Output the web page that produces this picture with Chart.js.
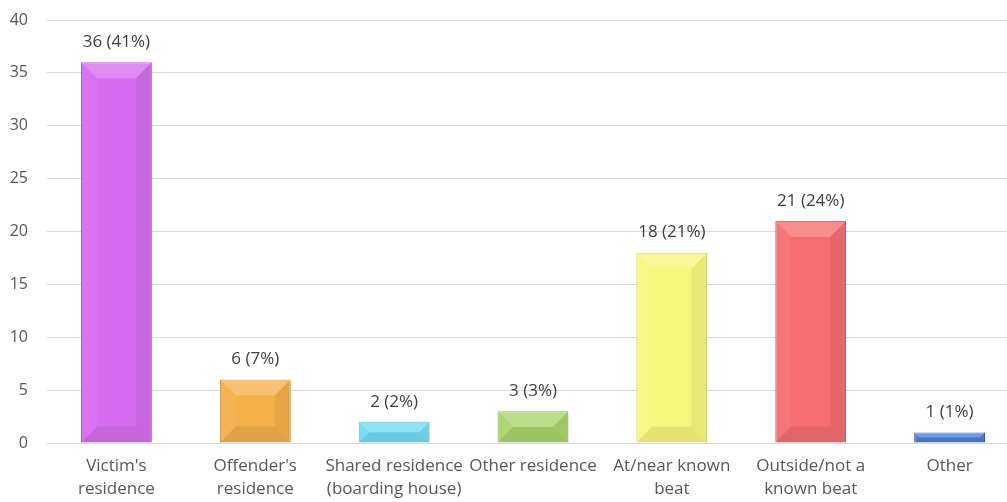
<!DOCTYPE html>
<html>
<head>
<meta charset="utf-8">
<script src="https://cdn.jsdelivr.net/npm/chart.js@4.4.1/dist/chart.umd.min.js"></script>
<style>
    html, body { margin: 0; padding: 0; background: #fff; overflow: hidden; }
    #wrap { width: 1007px; height: 502px; overflow: hidden; }
</style>
</head>
<body>
<!-- plot area runs a little past the right edge, like the original cropped chart -->
<div id="wrap"><canvas id="locationChart" width="1019" height="502"></canvas></div>
<script>
// chart data
var categories = [
    ["Victim's", "residence"],
    ["Offender's", "residence"],
    ["Shared residence", "(boarding house)"],
    ["Other residence"],
    ["At/near known", "beat"],
    ["Outside/not a", "known beat"],
    ["Other"]
];
var counts = [36, 6, 2, 3, 18, 21, 1];
var percents = [41, 7, 2, 3, 21, 24, 1];
var yTicks = [0, 5, 10, 15, 20, 25, 30, 35, 40];

var barColors = ['#d76cf0', '#f5b049', '#70dcf5', '#a8d56c', '#f7f77c', '#f56e6e', '#4a7ed6'];
var edgeColors = ['#a650bd', '#c98a2c', '#4bb0c8', '#7fae48', '#c8c850', '#c84b4b', '#2e5aa8'];
var fontFamily = '"Open Sans", "Noto Sans", sans-serif';

// draws the excel-like bevel and the value labels
var bevelPlugin = {
    id: 'bevel',
    afterDatasetsDraw: function (chart) {
        var ctx = chart.ctx;
        var meta = chart.getDatasetMeta(0);
        meta.data.forEach(function (bar, i) {
            var l = bar.x - bar.width / 2;
            var r = bar.x + bar.width / 2;
            var t = bar.y;
            var b = bar.base;
            var h = b - t;
            var d = Math.min(16, h / 2, bar.width / 2);

            ctx.save();
            // top facet
            ctx.fillStyle = 'rgba(255,255,255,0.22)';
            ctx.beginPath();
            ctx.moveTo(l, t); ctx.lineTo(r, t); ctx.lineTo(r - d, t + d); ctx.lineTo(l + d, t + d);
            ctx.closePath(); ctx.fill();
            // bottom facet
            ctx.fillStyle = 'rgba(0,0,0,0.08)';
            ctx.beginPath();
            ctx.moveTo(l, b); ctx.lineTo(r, b); ctx.lineTo(r - d, b - d); ctx.lineTo(l + d, b - d);
            ctx.closePath(); ctx.fill();
            // right facet
            ctx.fillStyle = 'rgba(0,0,0,0.06)';
            ctx.beginPath();
            ctx.moveTo(r, t); ctx.lineTo(r, b); ctx.lineTo(r - d, b - d); ctx.lineTo(r - d, t + d);
            ctx.closePath(); ctx.fill();
            // left facet
            ctx.fillStyle = 'rgba(255,255,255,0.06)';
            ctx.beginPath();
            ctx.moveTo(l, t); ctx.lineTo(l, b); ctx.lineTo(l + d, b - d); ctx.lineTo(l + d, t + d);
            ctx.closePath(); ctx.fill();

            // value label
            ctx.fillStyle = '#404040';
            ctx.font = '17px ' + fontFamily;
            ctx.textAlign = 'center';
            ctx.textBaseline = 'middle';
            ctx.fillText(counts[i] + ' (' + percents[i] + '%)', bar.x, t - 20);
            ctx.restore();
        });
    }
};

const chart = document.getElementById('locationChart');

new Chart(chart, {
    type: 'bar',
    data: {
        labels: categories,
        datasets: [{
            data: counts,
            backgroundColor: barColors,
            borderColor: edgeColors,
            borderWidth: 1,
            categoryPercentage: 1,
            barPercentage: 0.51
        }]
    },
    options: {
        responsive: false,
        animation: false,
        layout: { padding: { left: 9, top: 20, right: 0, bottom: 0 } },
        plugins: {
            legend: { display: false },
            tooltip: { enabled: false }
        },
        scales: {
            x: {
                afterFit: function (axis) {
                    axis.height = 59;
                    axis.paddingLeft = 0;
                    axis.paddingRight = 0;
                },
                grid: { display: false, drawTicks: false },
                border: { display: false },
                ticks: {
                    color: '#595959',
                    font: { family: fontFamily, size: 17, lineHeight: 1.35 },
                    padding: 12,
                    maxRotation: 0,
                    autoSkip: false
                }
            },
            y: {
                min: 0,
                max: 40,
                afterBuildTicks: function (axis) {
                    axis.ticks = yTicks.map(function (v) { return { value: v }; });
                },
                afterFit: function (axis) {
                    axis.width = 38;
                    axis.paddingTop = 0;
                    axis.paddingBottom = 0;
                },
                grid: { color: '#d9d9d9', drawTicks: false },
                border: { display: false },
                ticks: {
                    color: '#595959',
                    font: { family: fontFamily, size: 16 },
                    padding: 19
                }
            }
        }
    },
    plugins: [bevelPlugin]
});
</script>
</body>
</html>
